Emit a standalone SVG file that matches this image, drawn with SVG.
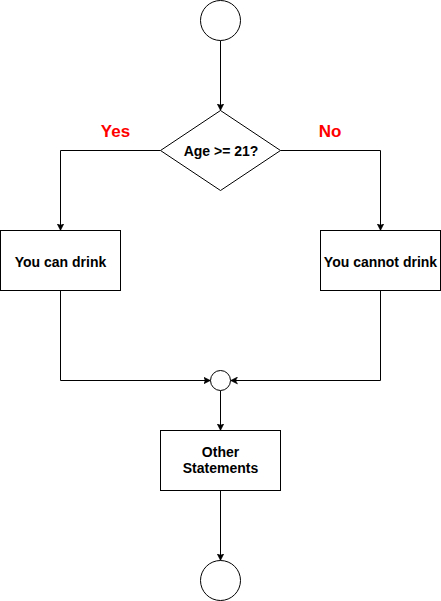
<svg xmlns="http://www.w3.org/2000/svg" width="441" height="601" viewBox="0 0 441 601">
<style>
.n{fill:#fff;stroke:#000;stroke-width:1}
.c{fill:none;stroke:#000;stroke-width:1}
.t{font-family:"Liberation Sans",Arial,sans-serif;font-size:14px;font-weight:bold;fill:#000;text-anchor:middle}
.l{font-family:"Liberation Sans",Arial,sans-serif;font-size:17px;font-weight:bold;fill:#ff0000;text-anchor:middle}
</style>
<defs>
<marker id="a" markerWidth="8" markerHeight="8" refX="7" refY="4" orient="auto" markerUnits="userSpaceOnUse">
<path d="M0,0.5 L7,4 L0,7.5 L1.8,4 Z" fill="#000" stroke="#000" stroke-width="0.5"/>
</marker>
</defs>
<rect width="441" height="601" fill="#fff"/>
<g id="connectors">
<path class="c" d="M220.5,40.5 V110.5" marker-end="url(#a)"/>
<path class="c" d="M160.5,150.5 H60.5 V230.5" marker-end="url(#a)"/>
<path class="c" d="M280.5,150.5 H380.5 V230.5" marker-end="url(#a)"/>
<path class="c" d="M60.5,290.5 V380.5 H210.5" marker-end="url(#a)"/>
<path class="c" d="M380.5,290.5 V380.5 H230.5" marker-end="url(#a)"/>
<path class="c" d="M220.5,390.5 V430.5" marker-end="url(#a)"/>
<path class="c" d="M220.5,490.5 V560.5" marker-end="url(#a)"/>
</g>
<g id="start"><circle class="n" cx="220.5" cy="20.5" r="20"/></g>
<g id="decision">
<path class="n" d="M220.5,110.5 L280.5,150.5 L220.5,190.5 L160.5,150.5 Z"/>
<text class="t" x="221" y="156">Age &gt;= 21?</text>
</g>
<g id="yes-label"><text class="l" x="115.5" y="137">Yes</text></g>
<g id="no-label"><text class="l" x="330" y="137">No</text></g>
<g id="can-drink">
<rect class="n" x="0.5" y="230.5" width="120" height="60"/>
<text class="t" x="60.5" y="267">You can drink</text>
</g>
<g id="cannot-drink">
<rect class="n" x="320.5" y="230.5" width="120" height="60"/>
<text class="t" x="380.5" y="267">You cannot drink</text>
</g>
<g id="merge"><circle class="n" cx="220.5" cy="380.5" r="10"/></g>
<g id="other">
<rect class="n" x="160.5" y="430.5" width="120" height="60"/>
<text class="t" x="220.5" y="457">Other</text>
<text class="t" x="220.5" y="473">Statements</text>
</g>
<g id="end"><circle class="n" cx="220.5" cy="580.5" r="20"/></g>
</svg>
